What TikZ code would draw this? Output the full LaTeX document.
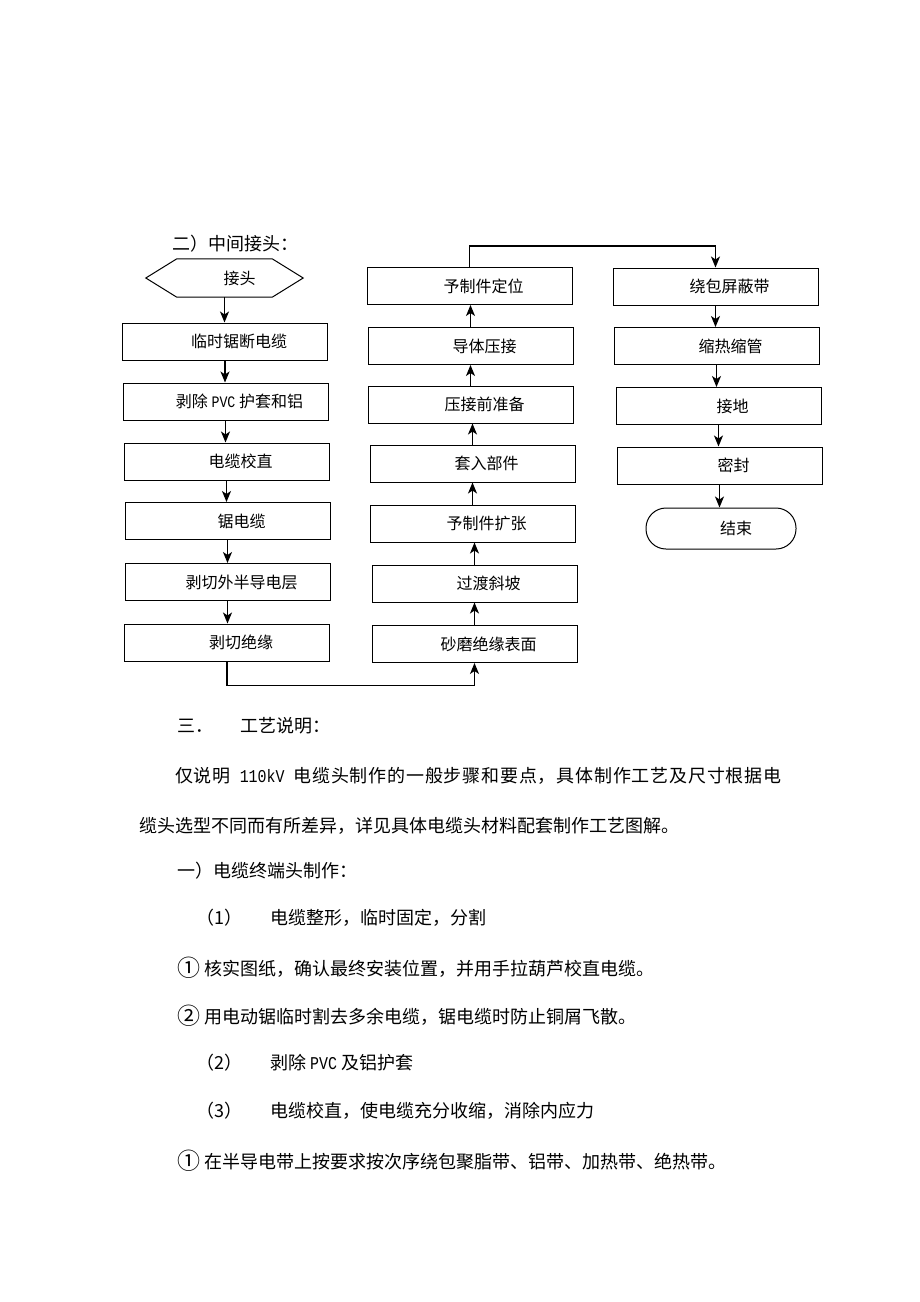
\documentclass[tikz,border=0pt]{standalone}
\usepackage{fontspec}
\setmainfont{Noto Sans CJK SC}
\newfontfamily\halfwidth{Liberation Mono}
\usepackage{tikz}
\usetikzlibrary{arrows.meta, positioning, calc}
\newcommand{\bodysize}{\fontsize{18pt}{22pt}\selectfont}
\newcommand{\boxsize}{\fontsize{16pt}{19pt}\selectfont}
\newcommand{\half}[1]{{\halfwidth\scalebox{0.83}[1]{#1}}}
\newcommand{\circnum}[1]{\makebox[27pt][l]{\fontsize{23pt}{23pt}\selectfont\raisebox{-1.5pt}{#1}}}
\tikzset{
    proc_box/.style={draw, line width=1pt, minimum width=205pt, minimum height=37pt, inner sep=0pt, font=\boxsize, execute at begin node={\hspace*{28pt}}},
    hex_text/.style={minimum width=157pt, minimum height=38pt, inner sep=0pt, font=\boxsize, execute at begin node={\hspace*{30pt}}},
    end_round/.style={draw, line width=1pt, rounded corners=20pt, minimum width=150pt, minimum height=41pt, inner sep=0pt, font=\boxsize, execute at begin node={\hspace*{30pt}}},
    flow/.style={-{Stealth[length=11pt, width=9pt, inset=3pt]}, line width=1.1pt},
    body_text/.style={anchor=west, inner sep=0pt, font=\bodysize}
}

\begin{document}
\begin{tikzpicture}[x=1pt, y=-1pt]
    \useasboundingbox (0,0) rectangle (920,1302);
    % === FLOW CHART ===
    \node[body_text] (title) at (172,244) {二）中间接头：};
    % Left column
    \node[hex_text] (start) at (224.5,278) {接头};
    \draw[line width=1pt] (start.west) -- ([xshift=31pt]start.north west) -- ([xshift=-31pt]start.north east)
        -- (start.east) -- ([xshift=-31pt]start.south east) -- ([xshift=31pt]start.south west) -- cycle;
    \node[proc_box] (b1) at (225,341.5) {临时锯断电缆};
    \node[proc_box] (b2) at (225.5,401.5) {剥除 \half{PVC} 护套和铝};
    \node[proc_box] (b3) at (226.5,461.5) {电缆校直};
    \node[proc_box] (b4) at (227.5,521) {锯电缆};
    \node[proc_box] (b5) at (227.5,582) {剥切外半导电层};
    \node[proc_box] (b6) at (227,642.5) {剥切绝缘};
    \draw[flow] (start.south) -- (start.south |- b1.north);
    \draw[flow] (b1.south) -- (b1.south |- b2.north);
    \draw[flow] (b2.south) -- (b2.south |- b3.north);
    \draw[flow] (b3.south) -- (b3.south |- b4.north);
    \draw[flow] (b4.south) -- (b4.south |- b5.north);
    \draw[flow] (b5.south) -- (b5.south |- b6.north);
    % Middle column (upwards)
    \node[proc_box] (m1) at (474.5,644) {砂磨绝缘表面};
    \node[proc_box] (m2) at (474.5,583.5) {过渡斜坡};
    \node[proc_box] (m3) at (472.5,523.5) {予制件扩张};
    \node[proc_box] (m4) at (472.5,463.5) {套入部件};
    \node[proc_box] (m5) at (470.5,404.5) {压接前准备};
    \node[proc_box] (m6) at (470.5,346) {导体压接};
    \node[proc_box] (m7) at (469.5,286) {予制件定位};
    \draw[flow] (b6.south) -- ++(0,24) -| (m1.south);
    \draw[flow] (m1.north) -- (m1.north |- m2.south);
    \draw[flow] (m2.north) -- (m2.north |- m3.south);
    \draw[flow] (m3.north) -- (m3.north |- m4.south);
    \draw[flow] (m4.north) -- (m4.north |- m5.south);
    \draw[flow] (m5.north) -- (m5.north |- m6.south);
    \draw[flow] (m6.north) -- (m6.north |- m7.south);
    % Right column
    \node[proc_box] (r1) at (715.5,286.5) {绕包屏蔽带};
    \node[proc_box] (r2) at (716.5,346) {缩热缩管};
    \node[proc_box] (r3) at (718.5,406) {接地};
    \node[proc_box] (r4) at (719.5,465.5) {密封};
    \node[end_round] (fin) at (721,528.5) {结束};
    \draw[flow] (m7.north) -- ++(0,-21) -| (r1.north);
    \draw[flow] (r1.south) -- (r1.south |- r2.north);
    \draw[flow] (r2.south) -- (r2.south |- r3.north);
    \draw[flow] (r3.south) -- (r3.south |- r4.north);
    \draw[flow] (r4.south) -- (r4.south |- fin.north);
    %
    % === TEXT ===
    \node[body_text] (t1) at (177,726) {\makebox[63pt][l]{三．}工艺说明：};
    \node[body_text] (t2) at (175,776)
        {\addfontfeature{LetterSpace=4.4}仅说明\hspace{9pt}\half{110kV}\hspace{9pt}电缆头制作的一般步骤和要点，具体制作工艺及尺寸根据电};
    \node[body_text] (t3) at (139,826) {缆头选型不同而有所差异，详见具体电缆头材料配套制作工艺图解。};
    \node[body_text] (t4) at (177,871) {一）电缆终端头制作：};
    \node[body_text] (t5) at (196,918) {\makebox[74pt][l]{（1）}电缆整形，临时固定，分割};
    \node[body_text] (t6) at (177,968) {\circnum{①}核实图纸，确认最终安装位置，并用手拉葫芦校直电缆。};
    \node[body_text] (t7) at (177,1016) {\circnum{②}用电动锯临时割去多余电缆，锯电缆时防止铜屑飞散。};
    \node[body_text] (t8) at (196,1063) {\makebox[74pt][l]{（2）}剥除 \half{PVC} 及铝护套};
    \node[body_text] (t9) at (196,1111) {\makebox[74pt][l]{（3）}电缆校直，使电缆充分收缩，消除内应力};
    \node[body_text] (t10) at (177,1161) {\circnum{①}在半导电带上按要求按次序绕包聚脂带、铝带、加热带、绝热带。};
\end{tikzpicture}
\end{document}
